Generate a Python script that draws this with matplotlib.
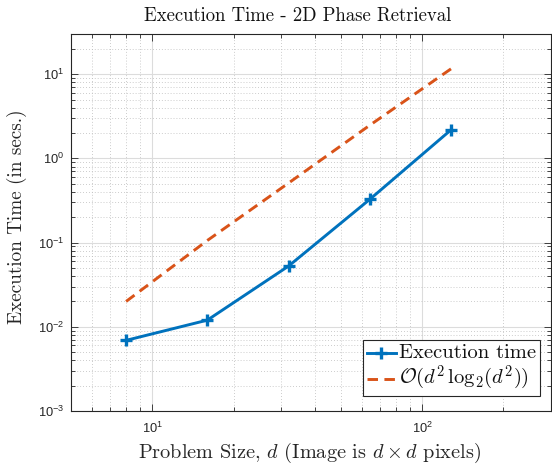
import math
import matplotlib
matplotlib.use("Agg")
import matplotlib.pyplot as plt
from matplotlib.ticker import FixedLocator, FuncFormatter, LogLocator, NullFormatter

# ---- data ----
problem_size = [8, 16, 32, 64, 128]
exec_time = [0.0069, 0.0120, 0.0527, 0.327, 2.19]
complexity_ref = [0.0200, 0.106, 0.51, 2.48, 11.6]

series_labels = ["Execution time", r"$\mathcal{O}(d^2\,\mathrm{log}_2(d^2))$"]
title_text = "Execution Time - 2D Phase Retrieval"
xlabel_text = r"Problem Size, $d$ (Image is $d\times d$ pixels)"
ylabel_text = "Execution Time (in secs.)"
x_major = [10, 100]
y_major = [1e-3, 1e-2, 1e-1, 1e0, 1e1]

plt.rcParams['mathtext.fontset'] = 'custom'
plt.rcParams['mathtext.rm'] = 'Liberation Sans'
plt.rcParams['mathtext.it'] = 'Liberation Sans:italic'
plt.rcParams['mathtext.bf'] = 'Liberation Sans:bold'
plt.rcParams['font.family'] = 'Liberation Sans'
plt.rcParams['axes.unicode_minus'] = False

W, H = 552, 466
fig = plt.figure(figsize=(W / 100, H / 100), dpi=100)
left, right, top, bottom = 71, 551, 34, 411
ax = fig.add_axes([left / W, (H - bottom) / H, (right - left) / W, (bottom - top) / H])

blue = '#0072BD'
orange = '#D95319'

ax.plot(problem_size, exec_time, color=blue, lw=2.1, marker='+', ms=9, mew=2.4,
        label=series_labels[0], zorder=3)
ax.plot(problem_size, complexity_ref, color=orange, lw=2.1, dashes=(3.6, 2.2),
        label=series_labels[1], zorder=3)

ax.set_xscale('log')
ax.set_yscale('log')
ax.set_xlim(5, 300)
ax.set_ylim(1e-3, 30)

ax.xaxis.set_major_locator(FixedLocator(x_major))
ax.yaxis.set_major_locator(FixedLocator(y_major))
ax.xaxis.set_minor_locator(LogLocator(base=10, subs=range(2, 10), numticks=20))
ax.yaxis.set_minor_locator(LogLocator(base=10, subs=range(2, 10), numticks=20))
ax.xaxis.set_minor_formatter(NullFormatter())
ax.yaxis.set_minor_formatter(NullFormatter())

fmt = FuncFormatter(lambda v, p: r"$10^{%d}$" % round(math.log10(v)))
ax.xaxis.set_major_formatter(fmt)
ax.yaxis.set_major_formatter(fmt)

ax.tick_params(which='both', direction='in', top=True, right=True,
               colors='#262626', labelcolor='#262626', width=0.6)
ax.tick_params(which='major', length=5, labelsize=9.3)
ax.tick_params(axis='x', which='major', pad=7)
ax.tick_params(axis='y', which='major', pad=5)
ax.tick_params(which='minor', length=3)
for s in ax.spines.values():
    s.set_color('#262626')
    s.set_linewidth(0.8)

ax.grid(which='major', color='#dcdcdc', lw=0.8, ls='-')
ax.grid(which='minor', color='#bbbbbb', lw=0.6, ls=(0, (1, 2.5)))
ax.set_axisbelow(True)

fig.text(298 / W, 1 - 16 / H, title_text, ha='center', va='center', fontsize=13.5,
         color='#111111', family='cmr10', math_fontfamily='cm')
fig.text(309 / W, 1 - 453 / H, xlabel_text, ha='center', va='center', fontsize=14.6,
         color='#262626', family='cmr10', math_fontfamily='cm')
fig.text(17 / W, 1 - 217 / H, ylabel_text, ha='center', va='center', fontsize=13.8,
         color='#262626', rotation=90, family='cmr10', math_fontfamily='cm')

leg = ax.legend(loc='lower right', bbox_to_anchor=((540 - left) / (right - left), (bottom - 396) / (bottom - top)),
                frameon=True, fancybox=False, framealpha=1, edgecolor='#262626',
                borderpad=0.3, handlelength=2.1, handletextpad=0.2, labelspacing=0.1,
                borderaxespad=0)
leg.get_frame().set_linewidth(0.8)
for t in leg.get_texts():
    t.set_fontsize(14.8)
    t.set_family('cmr10')
    t.set_math_fontfamily('cm')
    t.set_color('#111111')

fig.savefig('out.png', dpi=100)
